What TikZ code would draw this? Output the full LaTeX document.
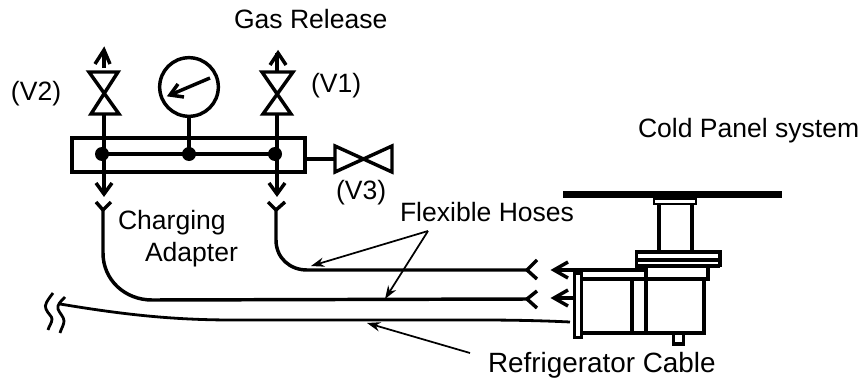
\documentclass[tikz,border=0pt]{standalone}
\usepackage{fontspec}
\setmainfont{Liberation Sans}
\usetikzlibrary{arrows.meta}
\tikzset{
  pipe/.style={line width=2.6pt,line join=miter,black},
  thinpipe/.style={line width=2.1pt,black},
  leader/.style={line width=1.3pt,-{Stealth[length=10pt,width=7pt]},shorten >=0pt},
  lbl/.style={anchor=base west,inner sep=0pt,outer sep=0pt,font=\fontsize{19.9pt}{23pt}\selectfont,text=black},
  lblwide/.style={lbl,font=\fontsize{20.9pt}{24pt}\selectfont},
  joint/.style={circle,fill=black,inner sep=0pt,minimum size=10.5pt},
  gaugebody/.style={circle,draw=black,line width=2.6pt,minimum size=44pt,inner sep=0pt},
}
\begin{document}
\begin{tikzpicture}[x=0.75pt,y=-0.75pt]
\useasboundingbox (0,0) rectangle (862,378);
% labels
\node[lbl] (gas) at (234,29) {Gas Release};
\node[lbl] (vtwo) at (11,100) {(V2)};
\node[lbl] (vone) at (311,92) {(V1)};
\node[lbl] (vthree) at (336,199) {(V3)};
\node[lbl] (cold) at (638,137) {Cold Panel system};
\node[lbl] (flex) at (400,221) {Flexible Hoses};
\node[lbl] (chg) at (118,229) {Charging};
\node[lbl] (adp) at (145,261) {Adapter};
\node[lblwide] (refr) at (488,372) {Refrigerator Cable};
% manifold
\draw[pipe] (72,138) rectangle (305,172);
\coordinate (jl) at (102,154); \coordinate (jm) at (189,154); \coordinate (jr) at (275,154);
\draw[pipe] (jl) -- (jm) -- (jr);
\node[joint] (jL) at (jl) {};
\node[joint] (jM) at (jm) {};
\node[joint] (jR) at (jr) {};
% gauge
\node[gaugebody] (gauge) at (189,87) {};
\draw[pipe] (gauge.south) -- (jM.center);
\coordinate (needleA) at (210,78); \coordinate (needleB) at (170,95);
\draw[pipe] (needleA) -- (needleB);
\draw[pipe,line cap=butt] (184,97) -- (170,95) -- (178,84);
% left vertical line with valve V2
\coordinate (vtwoB) at (104,114); \coordinate (vtwoT) at (104,72);
\draw[pipe] (89,72) -- (118,72) -- (91,114) -- (119,114) -- cycle;
\draw[pipe] (vtwoB) -- (104,182) -- (104,194);
\draw[pipe] (96,183) -- (104,194) -- (112,183);
\draw[pipe] (104,68) -- (104,50);
\draw[pipe] (95,64) -- (104,50) -- (110,64);
% right vertical with valve V1
\coordinate (voneB) at (277,114); \coordinate (voneT) at (277,72);
\draw[pipe] (262,72) -- (293,72) -- (263,114) -- (291,114) -- cycle;
\draw[pipe] (voneB) -- (277,182) -- (277,194);
\draw[pipe] (269,183) -- (277,194) -- (285,183);
\draw[pipe] (voneT) -- (277,53);
\draw[pipe] (270,65) -- (278,53) -- (286,65);
% V3
\coordinate (vthreeL) at (335,159);
\draw[pipe] (305,159) -- (vthreeL);
\draw[pipe] (335,146) -- (392,172) -- (392,146) -- (335,172) -- cycle;
% hoses
\coordinate (ya) at (103,210); \coordinate (yb) at (276,210);
\coordinate (ha) at (527,299); \coordinate (hb) at (527,270);
\draw[pipe] (96,202) -- (ya) -- (111,202);
\draw[pipe] (ya) -- (103,253) .. controls (103,280) and (125,300) .. (152,300) -- (ha);
\draw[pipe] (537,291) -- (ha) -- (537,308);
\draw[pipe] (268,202) -- (yb) -- (285,202);
\draw[pipe] (yb) -- (276,240) .. controls (276,258) and (290,270) .. (307,270) -- (hb);
\draw[pipe] (537,260) -- (hb) -- (537,279);
% cable
\coordinate (cbL) at (60,304); \coordinate (cbR) at (570,322);
\draw[thinpipe] (cbL) .. controls (120,314) and (170,320) .. (233,320) -- (480,320) .. controls (520,320) and (550,321) .. (cbR);
\draw[thinpipe] (53,293) .. controls (47,301) and (44,305) .. (46,309) .. controls (48,314) and (52,316) .. (52,319) .. controls (52,323) and (49,326) .. (48,330);
\draw[thinpipe] (65,297) .. controls (60,302) and (57,305) .. (58,309) .. controls (60,314) and (64,317) .. (64,321) .. controls (64,325) and (61,329) .. (60,333);
% leaders
\coordinate (fa) at (311,266); \coordinate (fb) at (385,299); \coordinate (fo) at (428,231);
\draw[leader] (fo) -- (fa);
\draw[leader] (fo) -- (fb);
\coordinate (ra) at (367,323); \coordinate (ro) at (470,353);
\draw[leader] (ro) -- (ra);
% cold panel
\fill (563,191) rectangle (782,198);
\draw[line width=1.6pt] (654,199) rectangle (696,204);
\draw[pipe] (659,204) -- (659,250);
\draw[pipe] (692,204) -- (692,250);
\draw[pipe] (636.5,252) rectangle (720,265.5);
\draw[line width=3pt] (636,259.5) -- (720,259.5);
\draw[pipe] (646,267) -- (646,333);
\draw[pipe] (708,267) -- (708,279) -- (583,279);
\draw[line width=3pt] (635,265.5) -- (720,265.5);
\draw[pipe] (704,279) -- (704,333) -- (583,333);
\draw[pipe] (632,279) -- (632,333);
\draw[pipe] (646,270) -- (574,270);
\draw[pipe] (574.5,273) rectangle (581.5,337.5);
\coordinate (tipa) at (554,270); \coordinate (tipb) at (554,298);
\draw[pipe] (574,270) -- (tipa);
\draw[pipe] (568,262) -- (tipa) -- (568,278);
\draw[pipe] (573,298) -- (tipb);
\draw[pipe] (568,290) -- (tipb) -- (568,306);
\draw[pipe] (673.5,333) -- (673.5,344) -- (683.5,344) -- (683.5,333);
\end{tikzpicture}
\end{document}
